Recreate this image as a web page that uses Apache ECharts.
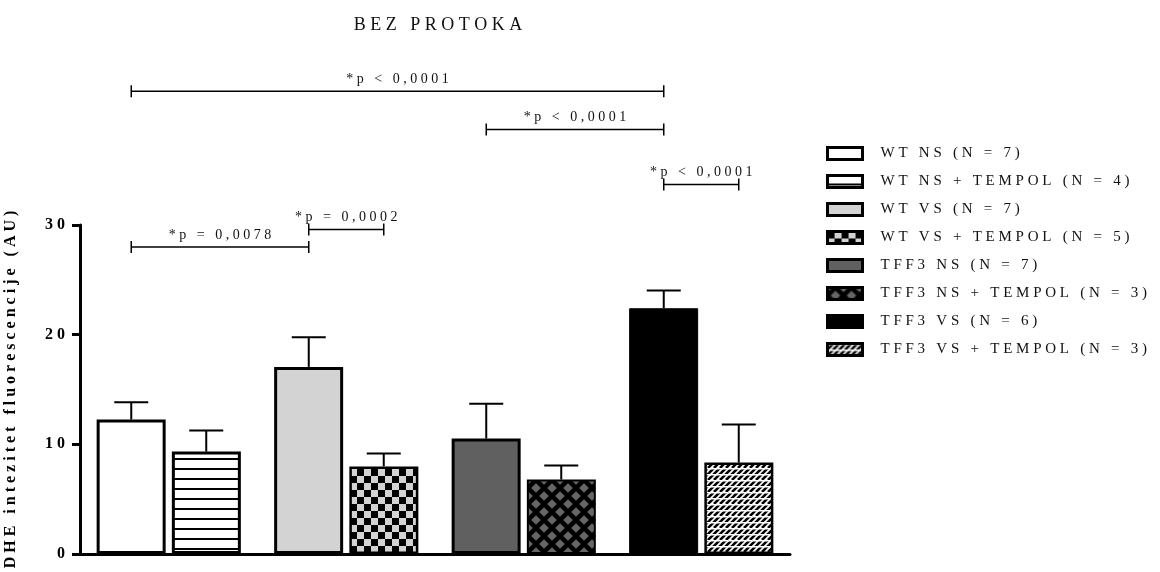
<!DOCTYPE html>
<html lang="hr">
<head>
  <meta charset="UTF-8">
  <title>BEZ PROTOKA</title>
  <script src="https://cdn.jsdelivr.net/npm/echarts@6/dist/echarts.min.js"></script>
  <style>
    html, body {
      margin: 0;
      padding: 0;
      width: 100%;
      height: 100%;
      background: #fff;
    }
    #main {
      width: 1160px;
      height: 572px;
    }
  </style>
</head>
<body>
  <div id="main"></div>
  <script>
    // groups on the x axis (two bars each)
    const groups = ['WT NS', 'WT VS', 'TFF3 NS', 'TFF3 VS'];
    const seriesNames = [
      'WT NS (N = 7)',
      'WT NS + TEMPOL (N = 4)',
      'WT VS (N = 7)',
      'WT VS + TEMPOL (N = 5)',
      'TFF3 NS (N = 7)',
      'TFF3 NS + TEMPOL (N = 3)',
      'TFF3 VS (N = 6)',
      'TFF3 VS + TEMPOL (N = 3)'
    ];
    const means = [12.26, 9.34, 17.06, 7.98, 10.53, 6.79, 22.41, 8.34];
    const sems = [1.58, 1.92, 2.70, 1.18, 3.17, 1.28, 1.61, 3.46];
    const yTicks = [0, 10, 20, 30];

    // significance brackets: bar index from / to, height in axis units, text
    const bracketFrom = [0, 4, 6, 0, 2];
    const bracketTo = [6, 6, 7, 2, 3];
    const bracketLevel = [42.2, 38.7, 33.7, 28.0, 29.6];
    const bracketText = ['*p < 0,0001', '*p < 0,0001', '*p < 0,0001', '*p = 0,0078', '*p = 0,0002'];

    const FONT = 'Liberation Serif';
    const SP = '\u2005';
    function spread(s) {
      return s.split('').join(SP);
    }

    function tile(size, draw) {
      const c = document.createElement('canvas');
      c.width = c.height = size;
      draw(c.getContext('2d'), size);
      return { image: c, repeat: 'repeat' };
    }

    const hLines = tile(10, (ctx, s) => {
      ctx.fillStyle = '#fff';
      ctx.fillRect(0, 0, s, s);
      ctx.fillStyle = '#000';
      ctx.fillRect(0, 8, s, 2);
    });
    const checker = tile(14, (ctx, s) => {
      ctx.fillStyle = '#d3d3d3';
      ctx.fillRect(0, 0, s, s);
      ctx.fillStyle = '#000';
      ctx.fillRect(0, 0, 7, 7);
      ctx.fillRect(7, 7, 7, 7);
    });
    const diamonds = tile(16, (ctx, s) => {
      ctx.fillStyle = '#000';
      ctx.fillRect(0, 0, s, s);
      ctx.fillStyle = '#666';
      const r = 4.8;
      [[s / 2, s / 2], [0, 0], [s, 0], [0, s], [s, s]].forEach(([cx, cy]) => {
        ctx.beginPath();
        ctx.moveTo(cx, cy - r);
        ctx.lineTo(cx + r, cy);
        ctx.lineTo(cx, cy + r);
        ctx.lineTo(cx - r, cy);
        ctx.closePath();
        ctx.fill();
      });
    });
    const hatch = tile(12, (ctx, s) => {
      ctx.fillStyle = '#fff';
      ctx.fillRect(0, 0, s, s);
      ctx.strokeStyle = '#000';
      ctx.lineWidth = 2.6;
      for (let k = -s; k <= 2 * s; k += s / 2) {
        ctx.beginPath();
        ctx.moveTo(k - s, s);
        ctx.lineTo(k, 0);
        ctx.stroke();
      }
      ctx.fillStyle = '#fff';
      ctx.fillRect(0, 0, s, 1.5);
      ctx.fillRect(0, s / 2, s, 1.5);
    });

    const fills = ['#fff', hLines, '#d3d3d3', checker, '#606060', diamonds, '#000', hatch];
    const borders = [3, 3, 3, 2.5, 3, 2, 1, 2.5];

    const BAR_W = 69;
    const HALF_STEP = 37.5; // distance from group centre to each bar centre

    function barX(api, barIndex) {
      const g = Math.floor(barIndex / 2);
      const cx = api.coord([g, 0])[0];
      return cx + (barIndex % 2 ? HALF_STEP : -HALF_STEP);
    }

    const barSeries = seriesNames.map((name, i) => {
      const data = groups.map((g, gi) => (gi === Math.floor(i / 2) ? means[i] : '-'));
      return {
        name: name,
        type: 'bar',
        stack: i % 2 ? 'right' : 'left',
        data: data,
        barWidth: BAR_W,
        barGap: '9%',
        itemStyle: {
          color: fills[i],
          borderColor: '#000',
          borderWidth: borders[i]
        },
        emphasis: { disabled: true },
        z: 2
      };
    });

    const errorData = means.map((m, i) => [Math.floor(i / 2), i, m, m + sems[i]]);
    const bracketData = bracketFrom.map((f, i) => [0, f, bracketTo[i], bracketLevel[i]]);

    const chart = echarts.init(document.getElementById('main'));

    const option = {
      animation: false,
      title: {
        text: spread('BEZ PROTOKA'),
        left: 433,
        top: 11,
        textAlign: 'center',
        textStyle: {
          fontFamily: FONT,
          fontSize: 18,
          fontWeight: 'normal',
          color: '#111'
        }
      },
      legend: {
        orient: 'vertical',
        left: 821,
        top: 141,
        itemWidth: 35,
        itemHeight: 12,
        itemGap: 13,
        icon: 'rect',
        data: seriesNames,
        selectedMode: false,
        itemStyle: { borderWidth: 3, borderColor: '#000' },
        formatter: name => spread(name),
        textStyle: {
          fontFamily: FONT,
          fontSize: 15,
          color: '#111',
          padding: [0, 0, 0, 13]
        }
      },
      grid: {
        left: 80,
        right: 370,
        top: 225,
        bottom: 18,
        outerBoundsMode: 'none'
      },
      xAxis: {
        type: 'category',
        data: groups,
        axisLine: { lineStyle: { color: '#000', width: 3 } },
        axisTick: { show: false },
        axisLabel: { show: false },
        splitLine: { show: false }
      },
      yAxis: {
        type: 'value',
        min: yTicks[0],
        max: yTicks[yTicks.length - 1],
        interval: 10,
        name: spread('DHE intezitet fluorescencije (AU)'),
        nameLocation: 'middle',
        nameRotate: 90,
        nameGap: 61,
        nameTextStyle: {
          fontFamily: FONT,
          fontSize: 16,
          fontWeight: 'bold',
          color: '#000'
        },
        axisLine: { show: true, lineStyle: { color: '#000', width: 3 } },
        axisTick: { show: true, length: 8, lineStyle: { color: '#000', width: 3 } },
        axisLabel: {
          margin: 15,
          fontFamily: FONT,
          fontSize: 16,
          fontWeight: 'bold',
          color: '#000',
          formatter: v => spread(String(v))
        },
        splitLine: { show: false }
      },
      series: barSeries.concat([
        {
          name: 'sem',
          type: 'custom',
          data: errorData,
          encode: { x: 0, y: [2, 3] },
          clip: false,
          z: 3,
          silent: true,
          renderItem: function (params, api) {
            const x = barX(api, api.value(1));
            const y0 = api.coord([0, api.value(2)])[1];
            const y1 = api.coord([0, api.value(3)])[1];
            const cap = 17;
            return {
              type: 'group',
              children: [
                { type: 'line', shape: { x1: x, y1: y0, x2: x, y2: y1 }, style: { stroke: '#000', lineWidth: 2 } },
                { type: 'line', shape: { x1: x - cap, y1: y1, x2: x + cap, y2: y1 }, style: { stroke: '#000', lineWidth: 2 } }
              ]
            };
          }
        },
        {
          name: 'brackets',
          type: 'custom',
          data: bracketData,
          encode: { x: 0, y: 3 },
          clip: false,
          z: 3,
          silent: true,
          renderItem: function (params, api) {
            const x1 = barX(api, api.value(1));
            const x2 = barX(api, api.value(2));
            const y = api.coord([0, api.value(3)])[1];
            const h = 6;
            const line = { stroke: '#000', lineWidth: 1.5 };
            return {
              type: 'group',
              children: [
                { type: 'line', shape: { x1: x1, y1: y, x2: x2, y2: y }, style: line },
                { type: 'line', shape: { x1: x1, y1: y - h, x2: x1, y2: y + h }, style: line },
                { type: 'line', shape: { x1: x2, y1: y - h, x2: x2, y2: y + h }, style: line },
                {
                  type: 'text',
                  style: {
                    text: spread(bracketText[params.dataIndex]),
                    x: (x1 + x2) / 2,
                    y: y - 5,
                    align: 'center',
                    verticalAlign: 'bottom',
                    font: '14px "' + FONT + '"',
                    fill: '#111'
                  }
                }
              ]
            };
          }
        }
      ])
    };

    chart.setOption(option);
    window.addEventListener('resize', () => chart.resize());
  </script>
</body>
</html>
